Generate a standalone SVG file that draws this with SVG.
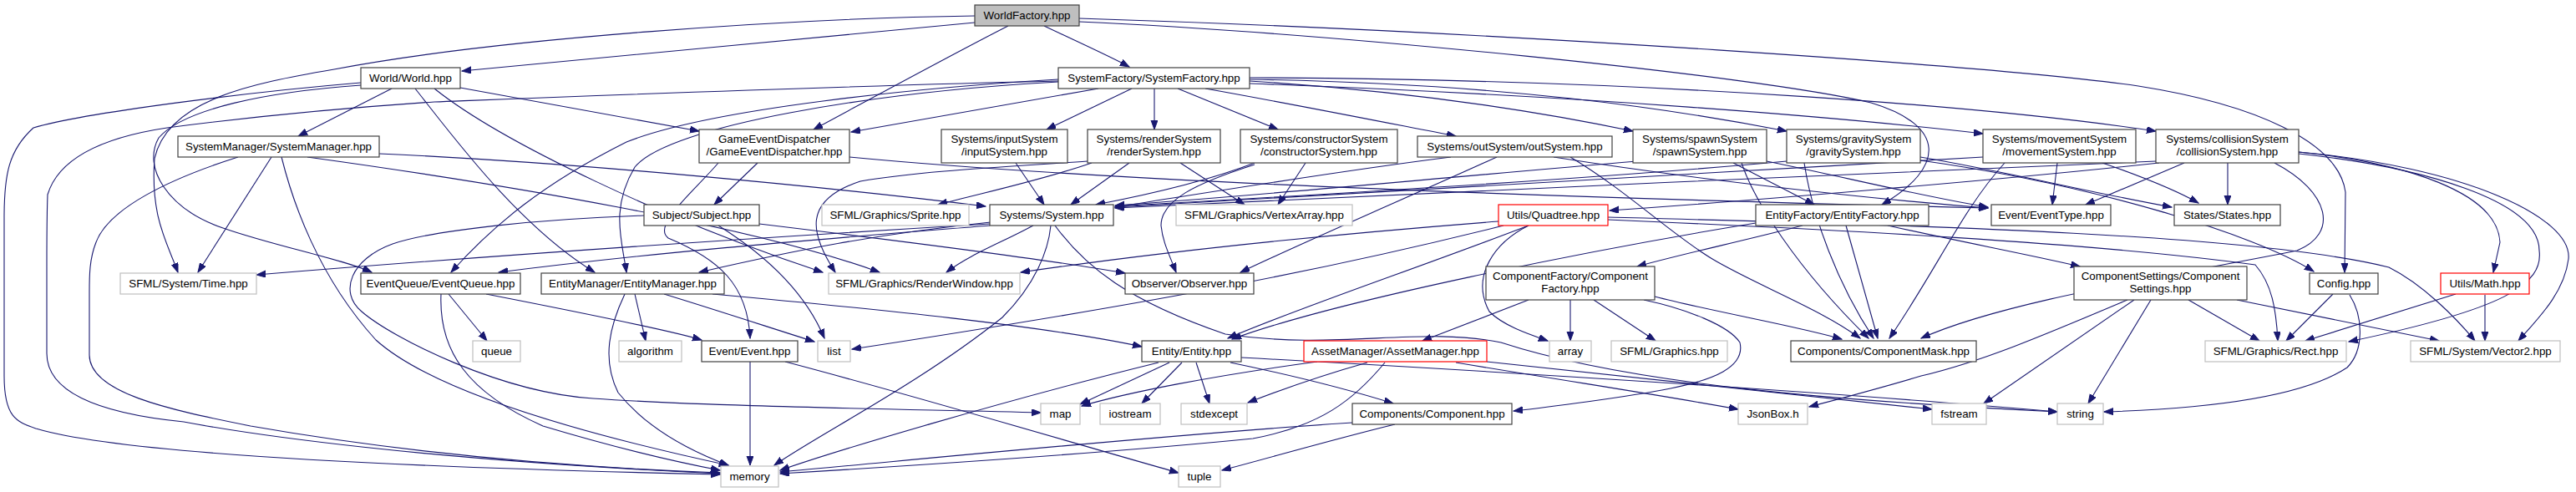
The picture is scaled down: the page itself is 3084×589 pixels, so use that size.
<svg xmlns="http://www.w3.org/2000/svg" width="3084" height="589" viewBox="0 0 3084 589">
<style>
.n rect{fill:#fff;stroke:#404040;stroke-width:1.2}
.x rect{fill:#fff;stroke:#bfbfbf;stroke-width:1.2}
.r rect{fill:#fff;stroke:#ff0000;stroke-width:1.2}
.g rect{fill:#bfbfbf;stroke:#404040;stroke-width:1.2}
text{font-family:"Liberation Sans",Arial,sans-serif;font-size:13.33px;text-anchor:middle;fill:#000}
#edges path{fill:none;stroke:#191970;stroke-width:1.1;marker-end:url(#ah)}
</style>
<defs>
<marker id="ah" markerWidth="12" markerHeight="9" refX="11" refY="4" orient="auto" markerUnits="userSpaceOnUse"><path d="M0,0 L11,4 L0,8 z" fill="#191970" stroke="#191970"/></marker>
</defs>
<rect width="3084" height="589" fill="#fff"/>
<g id="edges">
<path d="M1167,27 C1000,42 720,70 553,85"/>
<path d="M1250,31 C1290,50 1330,68 1352,80"/>
<path d="M1207,31 C1140,65 1030,125 974,155"/>
<path d="M1167,19 C950,22 600,45 400,83 C300,100 200,120 185,190 C180,260 200,290 213,326"/>
<path d="M1292,26 C1600,40 2100,90 2240,123 C2330,150 2330,200 2253,245"/>
<path d="M1292,22 C1800,38 2400,80 2560,103 C2700,125 2800,170 2808,230 L2807,326"/>
<path d="M469,106 L357,163"/>
<path d="M551,105 L837,157"/>
<path d="M432,99 C300,110 100,135 40,153 C10,180 5,210 5,260 L5,450 C5,500 20,505 43,513 C150,545 500,560 862,568"/>
<path d="M432,102 C320,110 220,130 190,165 C170,200 200,250 267,273 C330,295 410,310 445,326"/>
<path d="M497,106 C540,160 620,270 712,326"/>
<path d="M520,106 C600,170 800,265 985,326"/>
<path d="M454,184 C700,195 1000,225 1180,247"/>
<path d="M325,188 L237,326"/>
<path d="M285,188 C200,215 130,250 115,290 C107,310 107,330 107,350 L107,425 C107,470 200,490 300,510 C500,545 700,560 862,566"/>
<path d="M337,188 C350,240 380,330 450,407 C520,470 700,520 872,557"/>
<path d="M368,188 C600,220 900,270 1053,326"/>
<path d="M907,195 L855,245"/>
<path d="M860,195 C830,230 780,270 800,285 C860,310 895,340 898,405"/>
<path d="M1017,188 C1300,215 1800,235 2380,249"/>
<path d="M909,268 C1050,285 1250,310 1347,327"/>
<path d="M860,270 C900,295 960,340 987,405"/>
<path d="M771,258 C650,262 520,275 470,292 C420,310 405,350 433,373 C470,405 600,470 710,477 C850,487 1100,490 1246,494"/>
<path d="M1185,268 C900,285 600,305 307,329"/>
<path d="M1185,270 C1000,285 800,300 597,326"/>
<path d="M1186,266 C1050,280 950,300 837,326"/>
<path d="M1237,270 C1200,290 1160,305 1133,326"/>
<path d="M1258,270 C1255,300 1240,340 1200,380 C1100,460 980,520 927,557"/>
<path d="M1263,270 C1300,320 1350,360 1467,400 C1600,420 1700,390 1797,410 C1950,460 2200,480 2463,493"/>
<path d="M1355,106 L1253,155"/>
<path d="M1382,106 L1382,155"/>
<path d="M1410,106 L1530,155"/>
<path d="M1443,106 C1550,125 1650,145 1743,163"/>
<path d="M1496,97 C1700,110 1850,135 1955,157"/>
<path d="M1496,95 C1800,100 2000,130 2139,157"/>
<path d="M1496,100 C1900,115 2200,140 2374,160"/>
<path d="M1496,93 C2000,95 2400,130 2581,157"/>
<path d="M1315,106 L1019,158"/>
<path d="M1267,97 C1000,103 700,115 520,122 C400,130 300,140 200,153 C120,165 70,190 57,233 C56,260 56,290 56,320 L56,423 C56,470 120,495 220,505 C300,520 500,550 862,567"/>
<path d="M1267,95 C1100,105 850,130 750,170 C650,220 590,270 540,326"/>
<path d="M1267,98 C1050,110 800,150 760,200 C730,250 745,290 750,326"/>
<path d="M1216,195 L1250,245"/>
<path d="M1352,195 L1282,245"/>
<path d="M1307,195 C1250,215 1180,230 1123,245"/>
<path d="M1413,195 L1490,245"/>
<path d="M1302,193 C1200,200 1100,205 1030,217 C960,240 970,280 1000,326"/>
<path d="M1502,195 C1450,215 1380,232 1312,245"/>
<path d="M1563,195 L1530,245"/>
<path d="M1502,197 C1430,220 1390,240 1390,270 C1392,290 1400,305 1408,326"/>
<path d="M1737,188 C1600,205 1450,230 1335,248"/>
<path d="M1792,188 C1700,230 1560,290 1485,326"/>
<path d="M1880,188 C1950,230 2000,280 2050,310 C2100,340 2180,370 2227,405"/>
<path d="M1860,188 C2000,210 2200,235 2380,249"/>
<path d="M1960,193 C1700,215 1500,235 1335,246"/>
<path d="M2075,195 L2172,245"/>
<path d="M2085,195 C2100,240 2150,320 2237,405"/>
<path d="M2115,193 C2200,210 2300,235 2380,248"/>
<path d="M2139,193 C1900,215 1550,235 1335,247"/>
<path d="M2160,195 C2170,260 2200,340 2243,405"/>
<path d="M2299,188 C2400,205 2500,230 2600,248"/>
<path d="M2299,192 C2500,220 2700,280 2770,325"/>
<path d="M2374,188 C2000,210 1600,232 1335,248"/>
<path d="M2463,195 L2457,245"/>
<path d="M2517,195 C2560,210 2600,225 2632,243"/>
<path d="M2400,195 C2350,250 2320,320 2262,405"/>
<path d="M2581,193 C2200,210 1700,230 1335,249"/>
<path d="M2585,195 C2400,215 2100,240 1927,252"/>
<path d="M2667,195 L2667,245"/>
<path d="M2615,195 L2497,245"/>
<path d="M2752,182 C2880,195 2990,230 2993,290 L2985,326"/>
<path d="M2752,184 C2900,200 3040,240 3040,300 C3045,340 3000,370 2812,409"/>
<path d="M2752,182 C2950,200 3080,260 3075,310 C3070,350 3040,380 3015,408"/>
<path d="M2723,195 C2790,230 2800,280 2750,300 C2600,330 2400,360 2300,405"/>
<path d="M1830,270 C1700,320 1550,370 1470,405"/>
<path d="M1830,270 C1790,290 1760,330 1783,373 C1800,390 1830,400 1853,408"/>
<path d="M1794,265 C1600,280 1400,300 1222,326"/>
<path d="M1800,270 C1600,320 1400,360 1020,418"/>
<path d="M1925,263 C2200,275 2500,290 2700,317 C2720,340 2725,370 2727,408"/>
<path d="M1925,260 C2300,270 2700,280 2860,320 C2900,340 2940,380 2963,408"/>
<path d="M2102,267 C1900,300 1600,360 1475,406"/>
<path d="M2158,270 C2080,290 2010,305 1960,319"/>
<path d="M2210,270 L2248,405"/>
<path d="M2260,270 C2350,290 2430,305 2490,319"/>
<path d="M537,352 L583,408"/>
<path d="M528,352 C525,420 560,470 650,510 C750,540 820,555 862,563"/>
<path d="M582,352 C700,375 800,395 840,407"/>
<path d="M760,352 L773,408"/>
<path d="M748,352 C730,390 720,430 740,470 C780,520 840,545 872,557"/>
<path d="M795,352 C870,375 930,395 975,409"/>
<path d="M853,352 C1050,370 1250,390 1367,415"/>
<path d="M898,433 L898,557"/>
<path d="M940,433 C1100,475 1300,535 1411,566"/>
<path d="M1400,434 L1293,484"/>
<path d="M1415,434 L1367,483"/>
<path d="M1432,434 L1448,483"/>
<path d="M1387,434 C1200,480 1000,540 934,563"/>
<path d="M1473,434 C1550,450 1620,468 1668,483"/>
<path d="M1486,428 C1800,445 2200,470 2463,493"/>
<path d="M1670,508 C1600,525 1520,548 1463,563"/>
<path d="M1619,506 C1400,520 1100,550 934,565"/>
<path d="M1577,433 C1450,450 1350,470 1295,486"/>
<path d="M1637,434 C1580,450 1530,468 1494,482"/>
<path d="M1658,434 C1620,480 1580,510 1500,525 C1300,545 1050,560 934,567"/>
<path d="M1743,434 C1900,460 2000,475 2081,490"/>
<path d="M1780,433 C2000,455 2200,478 2313,490"/>
<path d="M1830,359 L1703,408"/>
<path d="M1880,359 L1880,408"/>
<path d="M1908,359 L1982,408"/>
<path d="M1981,355 C2050,373 2150,390 2205,406"/>
<path d="M1968,359 C2020,370 2070,390 2083,410 C2090,440 2050,455 2000,465 C1950,475 1850,488 1812,492"/>
<path d="M2547,359 C2450,400 2373,433 2300,450 C2250,465 2200,478 2166,487"/>
<path d="M2555,359 L2375,483"/>
<path d="M2575,359 L2500,483"/>
<path d="M2620,359 L2705,408"/>
<path d="M2678,359 L2920,408"/>
<path d="M2793,352 L2737,408"/>
<path d="M2813,353 C2830,380 2830,420 2810,440 C2750,480 2620,490 2519,493"/>
<path d="M2940,352 L2760,408"/>
<path d="M2975,353 L2975,408"/>
</g>
<g id="n_WorldFactory" class="g"><rect x="1167" y="6" width="125" height="25"/><text x="1229.5" y="23">WorldFactory.hpp</text></g>
<g id="n_World" class="n"><rect x="432" y="81" width="119" height="25"/><text x="491.5" y="98">World/World.hpp</text></g>
<g id="n_SystemFactory" class="n"><rect x="1267" y="81" width="229" height="25"/><text x="1381.5" y="98">SystemFactory/SystemFactory.hpp</text></g>
<g id="n_SystemManager" class="n"><rect x="213" y="163" width="241" height="25"/><text x="333.5" y="180">SystemManager/SystemManager.hpp</text></g>
<g id="n_GED" class="n"><rect x="837" y="155" width="180" height="40"/><text x="927" y="171">GameEventDispatcher</text><text x="927" y="186">/GameEventDispatcher.hpp</text></g>
<g id="n_inputSystem" class="n"><rect x="1127" y="155" width="151" height="40"/><text x="1202.5" y="171">Systems/inputSystem</text><text x="1202.5" y="186">/inputSystem.hpp</text></g>
<g id="n_renderSystem" class="n"><rect x="1302" y="155" width="159" height="40"/><text x="1381.5" y="171">Systems/renderSystem</text><text x="1381.5" y="186">/renderSystem.hpp</text></g>
<g id="n_constructorSystem" class="n"><rect x="1485" y="155" width="188" height="40"/><text x="1579" y="171">Systems/constructorSystem</text><text x="1579" y="186">/constructorSystem.hpp</text></g>
<g id="n_outSystem" class="n"><rect x="1697" y="163" width="233" height="25"/><text x="1813.5" y="180">Systems/outSystem/outSystem.hpp</text></g>
<g id="n_spawnSystem" class="n"><rect x="1955" y="155" width="160" height="40"/><text x="2035" y="171">Systems/spawnSystem</text><text x="2035" y="186">/spawnSystem.hpp</text></g>
<g id="n_gravitySystem" class="n"><rect x="2139" y="155" width="160" height="40"/><text x="2219" y="171">Systems/gravitySystem</text><text x="2219" y="186">/gravitySystem.hpp</text></g>
<g id="n_movementSystem" class="n"><rect x="2374" y="155" width="183" height="40"/><text x="2465.5" y="171">Systems/movementSystem</text><text x="2465.5" y="186">/movementSystem.hpp</text></g>
<g id="n_collisionSystem" class="n"><rect x="2581" y="155" width="171" height="40"/><text x="2666.5" y="171">Systems/collisionSystem</text><text x="2666.5" y="186">/collisionSystem.hpp</text></g>
<g id="n_Subject" class="n"><rect x="771" y="245" width="138" height="25"/><text x="840" y="262">Subject/Subject.hpp</text></g>
<g id="n_Sprite" class="x"><rect x="984" y="245" width="176" height="25"/><text x="1072" y="262">SFML/Graphics/Sprite.hpp</text></g>
<g id="n_System" class="n"><rect x="1185" y="245" width="148" height="25"/><text x="1259" y="262">Systems/System.hpp</text></g>
<g id="n_VertexArray" class="x"><rect x="1408" y="245" width="211" height="25"/><text x="1513.5" y="262">SFML/Graphics/VertexArray.hpp</text></g>
<g id="n_Quadtree" class="r"><rect x="1794" y="245" width="131" height="25"/><text x="1859.5" y="262">Utils/Quadtree.hpp</text></g>
<g id="n_EntityFactory" class="n"><rect x="2102" y="245" width="207" height="25"/><text x="2205.5" y="262">EntityFactory/EntityFactory.hpp</text></g>
<g id="n_EventType" class="n"><rect x="2384" y="245" width="143" height="25"/><text x="2455.5" y="262">Event/EventType.hpp</text></g>
<g id="n_States" class="n"><rect x="2603" y="245" width="127" height="25"/><text x="2666.5" y="262">States/States.hpp</text></g>
<g id="n_Time" class="x"><rect x="144" y="327" width="163" height="25"/><text x="225.5" y="344">SFML/System/Time.hpp</text></g>
<g id="n_EventQueue" class="n"><rect x="432" y="327" width="191" height="25"/><text x="527.5" y="344">EventQueue/EventQueue.hpp</text></g>
<g id="n_EntityManager" class="n"><rect x="648" y="327" width="219" height="25"/><text x="757.5" y="344">EntityManager/EntityManager.hpp</text></g>
<g id="n_RenderWindow" class="x"><rect x="992" y="327" width="229" height="25"/><text x="1106.5" y="344">SFML/Graphics/RenderWindow.hpp</text></g>
<g id="n_Observer" class="n"><rect x="1347" y="327" width="154" height="25"/><text x="1424" y="344">Observer/Observer.hpp</text></g>
<g id="n_ComponentFactory" class="n"><rect x="1779" y="319" width="202" height="40"/><text x="1880" y="335">ComponentFactory/Component</text><text x="1880" y="350">Factory.hpp</text></g>
<g id="n_ComponentSettings" class="n"><rect x="2483" y="319" width="207" height="40"/><text x="2586.5" y="335">ComponentSettings/Component</text><text x="2586.5" y="350">Settings.hpp</text></g>
<g id="n_Config" class="n"><rect x="2765" y="327" width="82" height="25"/><text x="2806" y="344">Config.hpp</text></g>
<g id="n_Math" class="r"><rect x="2922" y="327" width="106" height="25"/><text x="2975" y="344">Utils/Math.hpp</text></g>
<g id="n_queue" class="x"><rect x="566" y="408" width="57" height="25"/><text x="594.5" y="425">queue</text></g>
<g id="n_algorithm" class="x"><rect x="741" y="408" width="75" height="25"/><text x="778.5" y="425">algorithm</text></g>
<g id="n_Event" class="n"><rect x="840" y="408" width="115" height="25"/><text x="897.5" y="425">Event/Event.hpp</text></g>
<g id="n_list" class="x"><rect x="979" y="408" width="39" height="25"/><text x="998.5" y="425">list</text></g>
<g id="n_Entity" class="n"><rect x="1367" y="408" width="119" height="25"/><text x="1426.5" y="425">Entity/Entity.hpp</text></g>
<g id="n_AssetManager" class="r"><rect x="1561" y="408" width="219" height="25"/><text x="1670.5" y="425">AssetManager/AssetManager.hpp</text></g>
<g id="n_array" class="x"><rect x="1855" y="408" width="50" height="25"/><text x="1880" y="425">array</text></g>
<g id="n_Graphics" class="x"><rect x="1929" y="408" width="139" height="25"/><text x="1998.5" y="425">SFML/Graphics.hpp</text></g>
<g id="n_ComponentMask" class="n"><rect x="2144" y="408" width="222" height="25"/><text x="2255" y="425">Components/ComponentMask.hpp</text></g>
<g id="n_Rect" class="x"><rect x="2640" y="408" width="169" height="25"/><text x="2724.5" y="425">SFML/Graphics/Rect.hpp</text></g>
<g id="n_Vector2" class="x"><rect x="2886" y="408" width="179" height="25"/><text x="2975.5" y="425">SFML/System/Vector2.hpp</text></g>
<g id="n_map" class="x"><rect x="1246" y="483" width="47" height="25"/><text x="1269.5" y="500">map</text></g>
<g id="n_iostream" class="x"><rect x="1317" y="483" width="72" height="25"/><text x="1353" y="500">iostream</text></g>
<g id="n_stdexcept" class="x"><rect x="1414" y="483" width="79" height="25"/><text x="1453.5" y="500">stdexcept</text></g>
<g id="n_Component" class="n"><rect x="1619" y="483" width="191" height="25"/><text x="1714.5" y="500">Components/Component.hpp</text></g>
<g id="n_JsonBox" class="x"><rect x="2081" y="483" width="83" height="25"/><text x="2122.5" y="500">JsonBox.h</text></g>
<g id="n_fstream" class="x"><rect x="2313" y="483" width="65" height="25"/><text x="2345.5" y="500">fstream</text></g>
<g id="n_string" class="x"><rect x="2463" y="483" width="55" height="25"/><text x="2490.5" y="500">string</text></g>
<g id="n_memory" class="x"><rect x="863" y="558" width="69" height="25"/><text x="897.5" y="575">memory</text></g>
<g id="n_tuple" class="x"><rect x="1411" y="558" width="50" height="25"/><text x="1436" y="575">tuple</text></g>
</svg>
